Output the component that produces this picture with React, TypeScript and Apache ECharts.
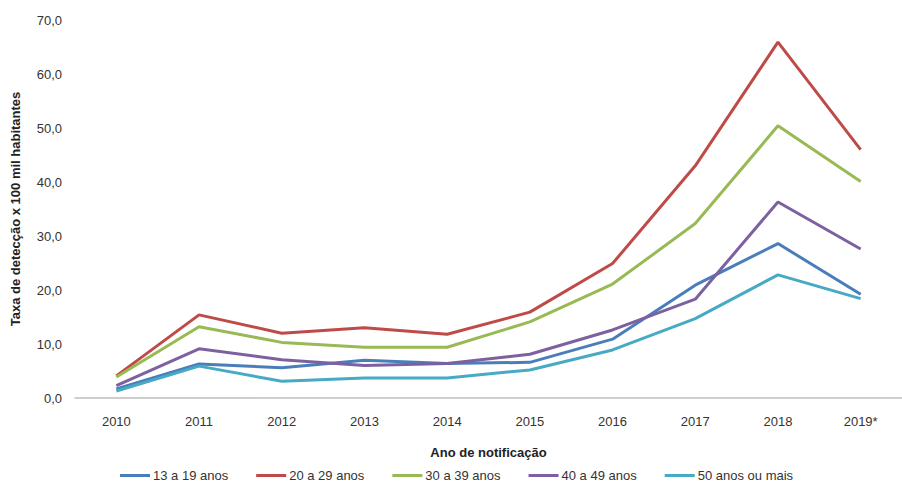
import React, { useEffect, useRef } from "react";
import * as echarts from "echarts";

const categories = ["2010", "2011", "2012", "2013", "2014", "2015", "2016", "2017", "2018", "2019*"];
const seriesNames = ["13 a 19 anos", "20 a 29 anos", "30 a 39 anos", "40 a 49 anos", "50 anos ou mais"];
const s13a19 = [1.7, 6.3, 5.6, 7.0, 6.4, 6.6, 10.9, 20.9, 28.6, 19.2];
const s20a29 = [4.1, 15.4, 12.0, 13.0, 11.8, 15.9, 24.9, 43.0, 65.9, 46.0];
const s30a39 = [3.9, 13.2, 10.3, 9.4, 9.4, 14.1, 21.1, 32.3, 50.4, 40.1];
const s40a49 = [2.3, 9.1, 7.1, 6.0, 6.4, 8.1, 12.6, 18.3, 36.3, 27.6];
const s50mais = [1.3, 5.9, 3.1, 3.7, 3.7, 5.2, 8.9, 14.7, 22.8, 18.4];
const colors = ["#4A7EBB", "#BE4B48", "#98B954", "#7D60A0", "#46AAC5"];

export default function App() {
  const ref = useRef<HTMLDivElement>(null);
  useEffect(() => {
    if (!ref.current) return;
    const chart = echarts.init(ref.current, null, { renderer: "svg" });
    const font = "'Liberation Sans', Arial, sans-serif";
    const data = [s13a19, s20a29, s30a39, s40a49, s50mais];
    chart.setOption({
      animation: false,
      textStyle: { fontFamily: font },
      grid: { left: 75, top: 20, width: 836, height: 378 },
      legend: {
        top: 469,
        left: 120,
        itemWidth: 30,
        itemHeight: 3,
        itemGap: 28,
        icon: "rect",
        padding: 0,
        textStyle: { fontSize: 13, color: "#333", fontFamily: font, padding: [0, 0, 0, -2] },
        data: seriesNames,
      },
      xAxis: {
        type: "category",
        data: categories,
        boundaryGap: true,
        axisLine: { lineStyle: { color: "#BFBFBF", width: 1.5 } },
        axisTick: { show: false },
        axisLabel: { fontSize: 13, color: "#333", margin: 17 },
        name: "Ano de notificação",
        nameLocation: "middle",
        nameGap: 48,
        nameTextStyle: { fontSize: 13, fontWeight: "bold", color: "#222" },
      },
      yAxis: {
        type: "value",
        min: 0,
        max: 70,
        interval: 10,
        axisLine: { show: false },
        axisTick: { show: false },
        splitLine: { show: false },
        axisLabel: {
          fontSize: 13,
          color: "#333",
          margin: 13,
          formatter: (v: number) => v.toFixed(1).replace(".", ","),
        },
        name: "Taxa de detecção x 100 mil habitantes",
        nameLocation: "middle",
        nameGap: 53,
        nameRotate: 90,
        nameTextStyle: { fontSize: 13, fontWeight: "bold", color: "#222" },
      },
      series: seriesNames.map((n, i) => ({
        name: n,
        type: "line",
        data: data[i],
        showSymbol: false,
        symbol: "none",
        lineStyle: { width: 3, color: colors[i] },
        itemStyle: { color: colors[i] },
      })),
    });
    return () => chart.dispose();
  }, []);
  return <div ref={ref} style={{ position: "absolute", left: 0, top: 0, width: 902, height: 482 }} />;
}
